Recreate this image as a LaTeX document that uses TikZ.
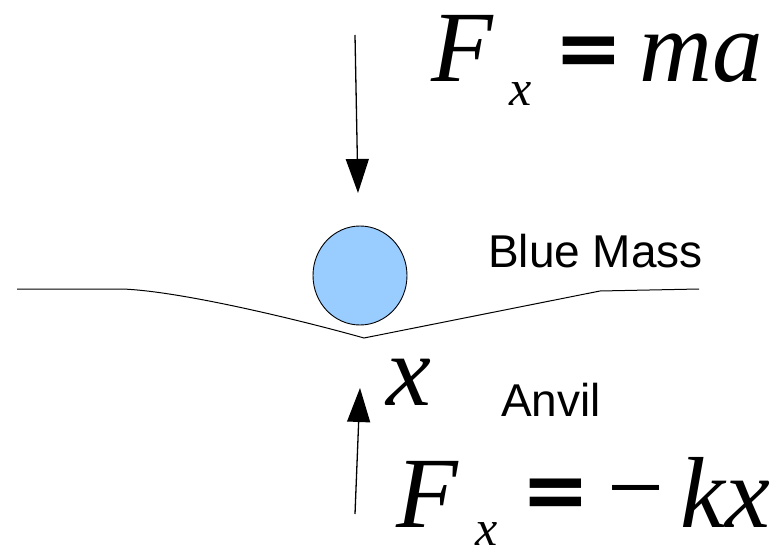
\documentclass[tikz,border=0pt]{standalone}
\usepackage{fontspec}
\setmainfont{Liberation Serif}
\setsansfont{Liberation Sans}
\newfontfamily\eqfont{DejaVu Sans}
\usetikzlibrary{arrows.meta, positioning, shapes.geometric}
\definecolor{massblue}{HTML}{99CCFF}

\begin{document}
\begin{tikzpicture}[
  x=1pt, y=-1pt,
  mass/.style={ellipse, draw, fill=massblue, line width=0.9pt, minimum width=94pt, minimum height=99pt},
  force/.style={-{Triangle[length=34pt, width=23pt]}, line width=1.3pt},
  label/.style={anchor=base west, inner sep=0pt, font=\sffamily\fontsize{46}{46}\selectfont},
  big/.style={anchor=base west, inner sep=0pt, font=\itshape\fontsize{101}{101}\selectfont},
  sub/.style={anchor=base west, inner sep=0pt, font=\itshape\fontsize{50}{50}\selectfont},
  eq/.style={inner sep=0pt, font=\eqfont\bfseries\fontsize{82}{82}\selectfont}
]
\useasboundingbox (0,0) rectangle (780,559);

\node[mass] (mass) at (360,275.5) {};
\node[label] (blue) at (488,268) {Blue Mass};
\node[label] (anvil) at (501,416) {Anvil};
\node[big] (dx) at (386,405) {x};

% the anvil surface
\coordinate (a0) at (17,289);
\coordinate (a1) at (122,289);
\coordinate (tip) at (364,338);
\coordinate (a2) at (600,291);
\coordinate (a3) at (699,289);
\draw[line width=1pt] (a0) -- (a1) .. controls (180,291) and (300,320) .. (tip) -- (a2) -- (a3);

% forces
\coordinate (top0) at (355,35);
\coordinate (top1) at (358,193);
\coordinate (bot0) at (355,514);
\coordinate (bot1) at (360,388);
\draw[force] (top0) -- (top1);
\draw[force] (bot0) -- (bot1);

% F_x = ma
\node[big] (F1) at (431,82) {F};
\node[sub] (x1) at (509,106) {x};
\node[eq] (eq1) at (589,57) {=};
\node[big] (ma) at (639,82) {ma};

% F_x = -kx
\node[big] (F2) at (396,527) {F};
\node[sub] (x2) at (475,545) {x};
\node[eq] (eq2) at (556,499) {=};
\node[inner sep=0pt, font=\fontsize{101}{101}\selectfont] (minus) at (636,503) {−};
\node[big] (kx) at (680,527) {kx};
\end{tikzpicture}
\end{document}
